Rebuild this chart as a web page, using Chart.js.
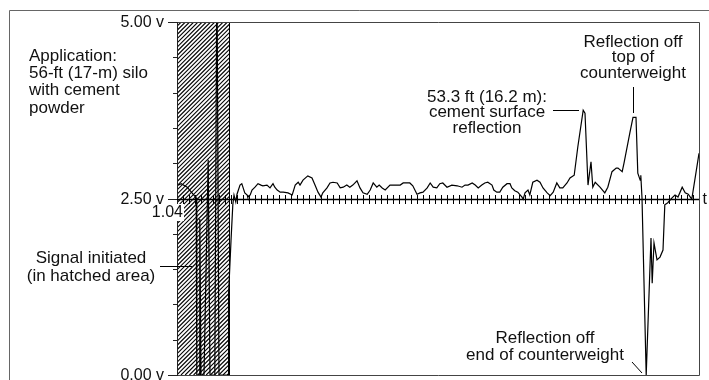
<!DOCTYPE html>
<html>
<head>
<meta charset="utf-8">
<script src="https://cdn.jsdelivr.net/npm/chart.js@4.4.1/dist/chart.umd.min.js"></script>
<style>
  html, body { margin: 0; padding: 0; background: #fff; }
  #wrap { position: relative; width: 709px; height: 380px; }
</style>
</head>
<body>
<div id="wrap"><canvas id="canvas" width="709" height="380"></canvas></div>
<script>
// time axis (arbitrary units, one tick per unit)
const timeRange = [0, 87];
const hatchedRange = [0, 8.7];

// signal trace, volts
const traceTime = [
  0, 0.7, 1.7, 2.5, 3.2, 3.3, 3.7, 3.8, 4.0, 4.5, 5.2, 5.5, 6.3, 6.6, 6.7, 7.0, 8.5,
  8.6, 9.0, 9.3, 9.5, 9.8, 10.0, 10.5, 10.8, 11.3, 11.7, 11.8, 12.2, 12.5, 13.0, 13.5,
  14.0, 14.3, 15.0, 15.5, 16.0, 16.3, 16.7, 17.2, 17.7, 18.5, 19.2, 19.7, 20.2, 20.5,
  21.0, 21.8, 22.5, 23.0, 23.5, 24.0, 24.3, 25.0, 25.5, 26.0, 26.7, 27.2, 27.7, 28.3,
  28.8, 29.3, 30.0, 30.5, 31.0, 31.7, 32.2, 32.7, 33.3, 33.7, 34.2, 34.7, 35.5, 36.0,
  36.7, 37.2, 37.7, 38.3, 38.8, 39.3, 40.0, 40.5, 41.0, 41.7, 42.2, 42.7, 43.3, 43.8,
  44.3, 45.0, 45.8, 46.7, 47.5, 48.0, 48.5, 49.2, 49.7, 50.2, 50.8, 51.3, 51.8, 52.5,
  52.8, 53.3, 53.8, 54.3, 55.0, 55.5, 55.8, 56.3, 56.8, 57.5, 57.7, 58.0, 58.5, 58.8,
  59.3, 60.0, 60.5, 61.0, 61.7, 62.2, 62.7, 63.3, 63.8, 64.3, 65.0, 65.5, 66.2, 66.8,
  67.7, 68.0, 68.5, 69.0, 69.3, 69.7, 70.5, 71.3, 71.8, 72.5, 73.2, 73.5, 74.2, 74.5,
  75.5, 76.0, 76.5, 76.8, 77.2, 77.3, 77.5, 78.2, 79.0, 79.2, 79.5, 80.0, 80.5, 81.0,
  81.3, 81.8, 82.5, 83.0, 83.5, 84.2, 84.7, 85.2, 85.8, 87.0
];
const traceVolts = [
  2.68, 2.71, 2.66, 2.58, 2.51, 0, 0, 2.21, 0, 0, 3.05, 0, 0, 5.0, 5.0, 0, 0,
  1.16, 1.9, 2.41, 2.55, 2.45, 2.56, 2.69, 2.71, 2.58, 2.55, 2.52, 2.55, 2.62, 2.66, 2.71,
  2.69, 2.68, 2.69, 2.65, 2.71, 2.66, 2.62, 2.59, 2.59, 2.58, 2.55, 2.69, 2.73, 2.69,
  2.76, 2.82, 2.79, 2.69, 2.59, 2.52, 2.58, 2.65, 2.72, 2.73, 2.72, 2.65, 2.66, 2.69,
  2.66, 2.69, 2.75, 2.65, 2.58, 2.56, 2.62, 2.72, 2.66, 2.69, 2.65, 2.62, 2.69, 2.69,
  2.69, 2.69, 2.72, 2.72, 2.72, 2.68, 2.56, 2.58, 2.59, 2.65, 2.72, 2.66, 2.65, 2.71,
  2.72, 2.66, 2.69, 2.68, 2.66, 2.69, 2.69, 2.72, 2.69, 2.65, 2.69, 2.72, 2.73, 2.69,
  2.62, 2.59, 2.59, 2.66, 2.71, 2.71, 2.65, 2.61, 2.59, 2.52, 2.49, 2.58, 2.62, 2.55,
  2.73, 2.76, 2.73, 2.65, 2.58, 2.54, 2.59, 2.72, 2.65, 2.65, 2.72, 2.79, 2.83, 3.23,
  3.75, 3.71, 2.69, 3.02, 2.66, 2.73, 2.66, 2.58, 2.66, 2.88, 2.93, 2.93, 2.88, 3.00,
  3.44, 3.65, 3.65, 2.86, 2.76, 2.83, 2.51, 0, 1.94, 1.30, 1.87, 1.63, 1.67, 1.77,
  2.41, 2.44, 2.51, 2.55, 2.52, 2.66, 2.58, 2.56, 2.49, 3.14
];

const voltTicks = [0, 0.5, 1, 1.5, 2, 2.5, 3, 3.5, 4, 4.5, 5];
const voltLabels = { 0: '0.00 v', 2.5: '2.50 v', 5: '5.00 v' };
const baseline = 2.5;
const cursorLabel = '1.04';
const timeLabel = 't';

const noteApplication = ['Application:', '56-ft (17-m) silo', 'with cement', 'powder'];
const noteSignal = ['Signal initiated', '(in hatched area)'];
const noteSurface = ['53.3 ft (16.2 m):', 'cement surface', 'reflection'];
const noteTop = ['Reflection off', 'top of', 'counterweight'];
const noteEnd = ['Reflection off', 'end of counterweight'];

const FONT = '"Liberation Sans", Arial, Helvetica, sans-serif';

function lines(ctx, arr, x, y, step, align) {
  ctx.textAlign = align;
  arr.forEach((s, i) => ctx.fillText(s, x, y + i * step));
}

const hatchPlugin = {
  id: 'hatch',
  beforeDatasetsDraw(chart) {
    const { ctx, chartArea: a, scales: { x } } = chart;
    const x0 = x.getPixelForValue(hatchedRange[0]);
    const x1 = x.getPixelForValue(hatchedRange[1]);
    ctx.save();
    ctx.beginPath();
    ctx.rect(x0, a.top, x1 - x0, a.bottom - a.top);
    ctx.clip();
    ctx.strokeStyle = '#000';
    ctx.lineWidth = 1.1;
    const h = a.bottom - a.top;
    for (let s = x0 - h; s < x1 + 4; s += 4.2) {
      ctx.beginPath();
      ctx.moveTo(s, a.bottom);
      ctx.lineTo(s + h, a.top);
      ctx.stroke();
    }
    ctx.restore();
    ctx.save();
    ctx.strokeStyle = '#000';
    ctx.lineWidth = 1;
    ctx.beginPath();
    ctx.moveTo(Math.round(x1) + 0.5, a.top);
    ctx.lineTo(Math.round(x1) + 0.5, a.bottom);
    ctx.stroke();
    ctx.restore();
  }
};

const framePlugin = {
  id: 'frame',
  afterDatasetsDraw(chart) {
    const { ctx, chartArea: a, scales: { x, y } } = chart;
    ctx.save();

    // outer panel border
    ctx.strokeStyle = '#666';
    ctx.lineWidth = 1;
    ctx.beginPath();
    ctx.moveTo(9.5, 380);
    ctx.lineTo(9.5, 10.5);
    ctx.lineTo(709, 10.5);
    ctx.stroke();

    // plot box: top, right, bottom
    ctx.strokeStyle = '#444';
    ctx.beginPath();
    ctx.moveTo(a.left, a.top + 0.5);
    ctx.lineTo(a.right + 0.5, a.top + 0.5);
    ctx.lineTo(a.right + 0.5, a.bottom + 0.5);
    ctx.lineTo(a.left, a.bottom + 0.5);
    ctx.stroke();

    // left axis with ticks
    ctx.strokeStyle = '#222';
    ctx.beginPath();
    ctx.moveTo(a.left + 0.5, a.top);
    ctx.lineTo(a.left + 0.5, a.bottom + 1);
    voltTicks.forEach(v => {
      const py = Math.round(y.getPixelForValue(v)) + 0.5;
      const len = voltLabels[v] ? 9 : 4;
      ctx.moveTo(a.left - len, py);
      ctx.lineTo(a.left + 0.5, py);
    });
    ctx.stroke();

    ctx.fillStyle = '#111';
    ctx.font = '16px ' + FONT;
    ctx.textAlign = 'right';
    ctx.textBaseline = 'middle';
    Object.keys(voltLabels).forEach(k => {
      ctx.fillText(voltLabels[k], a.left - 13, y.getPixelForValue(+k) + 1);
    });

    // time axis crossing at 2.50 v
    const by = Math.round(y.getPixelForValue(baseline)) + 0.5;
    ctx.strokeStyle = '#000';
    ctx.lineWidth = 1.6;
    ctx.beginPath();
    ctx.moveTo(a.left, by);
    ctx.lineTo(a.right, by);
    ctx.stroke();
    ctx.lineWidth = 1;
    ctx.beginPath();
    for (let t = timeRange[0] + 1; t < timeRange[1]; t += 1) {
      const px = Math.round(x.getPixelForValue(t)) + 0.5;
      ctx.moveTo(px, by - 4.5);
      ctx.lineTo(px, by + 4.5);
    }
    ctx.stroke();
    ctx.fillText(timeLabel, a.right + 8, by);

    // cursor readout box
    ctx.fillStyle = '#fff';
    ctx.fillRect(151, 204, 33, 17);
    ctx.fillStyle = '#111';
    ctx.textAlign = 'right';
    ctx.font = '16px ' + FONT;
    ctx.fillText(cursorLabel, 183, 213);

    // annotations
    ctx.font = '17px ' + FONT;
    ctx.textBaseline = 'middle';
    lines(ctx, noteApplication, 29, 56, 17.3, 'left');
    lines(ctx, noteSignal, 91, 258, 18, 'center');
    lines(ctx, noteSurface, 487, 97, 15.5, 'center');
    lines(ctx, noteTop, 633, 42, 15.5, 'center');
    lines(ctx, noteEnd, 545, 338, 17, 'center');

    // leader lines
    ctx.strokeStyle = '#000';
    ctx.lineWidth = 1;
    ctx.beginPath();
    ctx.moveTo(160, 266.5);
    ctx.lineTo(192, 266.5);
    ctx.moveTo(553, 110.5);
    ctx.lineTo(579, 110.5);
    ctx.moveTo(633.5, 87);
    ctx.lineTo(633.5, 113);
    ctx.moveTo(632, 362);
    ctx.lineTo(642, 373);
    ctx.stroke();

    ctx.restore();
  }
};

const points = traceTime.map((t, i) => ({ x: t, y: traceVolts[i] }));

new Chart(document.getElementById('canvas').getContext('2d'), {
  type: 'line',
  data: {
    datasets: [{
      data: points,
      borderColor: '#000',
      borderWidth: 1.2,
      pointRadius: 0,
      tension: 0,
      fill: false
    }]
  },
  options: {
    responsive: false,
    animation: false,
    events: [],
    layout: { padding: { left: 177, top: 22, right: 10, bottom: 5 } },
    plugins: { legend: { display: false }, tooltip: { enabled: false } },
    scales: {
      x: { type: 'linear', min: timeRange[0], max: timeRange[1], display: false },
      y: { min: 0, max: 5, display: false }
    }
  },
  plugins: [hatchPlugin, framePlugin]
});
</script>
</body>
</html>
